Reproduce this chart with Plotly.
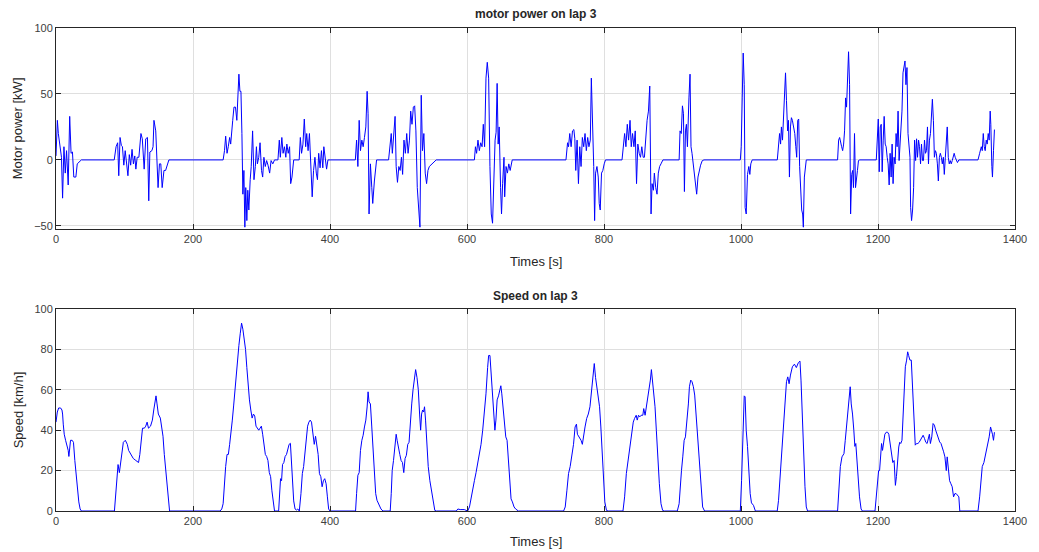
import plotly.graph_objects as go

# ---------------- data ----------------
power_t = [
    0, 2, 3.4, 6, 8, 9.6, 11.6, 13.5, 15.4, 17.8, 20, 22, 24, 26, 29, 31, 35, 37,
    85, 87.7, 90, 91.6, 93.5, 95.4, 97, 99, 101, 103, 105, 107, 109, 111, 113, 115, 116.6, 118.5, 121,
    124, 126, 128.7, 131, 133.5, 135.4, 137, 140, 141.7, 143, 145.6, 147.5, 149, 151, 153, 155, 157.6,
    160, 162, 164.8,
    244, 246, 247.7, 249.7, 251.5, 253.5, 255, 256.4, 258, 259.8, 262, 264, 265.6, 267, 268.5, 270,
    271.4, 272.8, 274.3, 275.7, 277, 278.6, 280, 281.5, 283.5, 285, 287, 289, 291, 292.6, 294, 296,
    297.9, 300, 301.7, 303.5, 305.5, 307.5, 309.5, 311.9, 314, 316.5, 319, 324, 326, 327.5, 329.7,
    331.5, 333.5, 335.5, 337, 339, 341, 342.6, 344.5, 347, 355, 356.7, 358.5, 360.5, 362.5, 364.5,
    366, 368, 370, 372, 374, 376, 378, 380, 381.7, 383.5, 385.5, 387.5, 389.5, 391, 393, 395, 397,
    437, 438.8, 440.7, 442.6, 444.5, 446.5, 448.4, 450.3, 452.3, 454.2, 455.6, 457, 459, 461, 462.4,
    464.8, 466.7, 468,
    485.5, 488, 489.4, 491, 492.7, 495, 496.6, 498.5, 500.5, 502.4, 504.3, 506, 508, 510, 512, 514,
    516, 517.8, 519.7, 521.7, 523.6, 525.4, 527.4, 529.4, 531.3, 533.2, 535, 537, 539, 541, 543, 545,
    547, 549, 552, 555,
    610.8, 612.3, 614, 616, 618, 620, 622, 623.8, 625.7, 627.7, 629.6, 631.6, 633.5, 635.4, 637.3,
    639.3, 641, 642.5, 644, 645.5, 647, 649, 650.4, 652, 654, 655, 657, 659, 661, 663, 665, 666,
    744.5, 745.5, 746.8, 748.2, 750, 752, 754, 756, 757.4, 758.8, 760.7, 762.7, 764.6, 766.5, 768.4,
    770.4, 772.3, 774.2, 776.2, 778, 780, 781.5, 783, 785, 786.3, 787.7, 789.7, 791.6, 793, 794.5,
    796.4, 798.3, 800.3, 802.2,
    826.3, 828.1, 830.1, 832, 834, 835.9, 838, 839.8, 841.7, 843.7, 845.6, 847.5, 849.4, 851.4, 853.3,
    855.2, 857.2, 859, 861, 862.9, 864.9, 866.8, 868.7, 870.2, 872.1, 873.5, 875.5, 877.4, 879.3,
    881.2, 883.2, 886,
    909.7, 911, 912.8, 914.5, 916, 917.4, 918.9, 920.3, 921.8, 922.7, 924, 925.6, 927, 928.5, 930,
    931.4, 933.3, 935.3, 937.2, 939.1, 941, 943.5, 946,
    999, 1000.3, 1001.8, 1003.2, 1004.7, 1006, 1007.6, 1009.5, 1011.4, 1012.9, 1014.3, 1016.3,
    1053, 1054.8, 1056.3, 1057.8, 1059, 1060.6, 1062, 1063.5, 1065, 1066.4, 1068, 1069.3, 1070.7,
    1072.2, 1073.6, 1075, 1077, 1078.5, 1080, 1081.3, 1082.8, 1084.2, 1085.6, 1087, 1088.6, 1090,
    1091, 1092.5, 1094, 1095.3,
    1141, 1142.5, 1144, 1145.4, 1146.9, 1148.4, 1149.8, 1151.2, 1152.7, 1154.1, 1155.6, 1157, 1158.5,
    1160, 1161.6, 1163, 1164.2, 1165.7, 1167.2, 1168.6, 1170, 1171.5, 1173.4,
    1197.5, 1198.9, 1200.4, 1201.8, 1203.3, 1204.7, 1206.1, 1207.6, 1209, 1210.5, 1211.9, 1213.4,
    1214.8, 1216.3, 1217.7, 1219.2, 1220.6, 1222, 1223.5, 1225, 1226.4, 1227.9, 1229.3, 1230.8,
    1232.2, 1233.7, 1235, 1236.5, 1238, 1239.4, 1240.8, 1242.3, 1243.8, 1245.2, 1246.7, 1247.6, 1249,
    1250.5, 1252, 1253.4, 1254.9, 1256.3, 1257.7, 1259.2, 1260.6, 1262.1, 1263.5, 1265, 1266.4,
    1267.9, 1269.3, 1270.8, 1272.2, 1273.7, 1275.1, 1276.6, 1278, 1279.4, 1280.9, 1282.3, 1283.8,
    1285.2, 1286.7, 1288.1, 1289.6, 1291, 1292.5, 1293.9, 1295.4, 1296.8, 1298.3, 1299.7, 1301.1,
    1302.6, 1304, 1305.5, 1306.9, 1308.4, 1309.8, 1311.2, 1312.7, 1314.1, 1316, 1318,
    1346, 1348.4, 1350.8, 1352.2, 1353.7, 1355.1, 1356.5, 1358, 1359.4, 1360.9, 1362.3, 1363.8,
    1364.7, 1366.2, 1367.1, 1368.6, 1370,
]
power_kw = [
    3, 30, 20, 10, 2, -29, 10, -10, 7, -19, 33, 5, 6, -13, -13, -3, -0.5, 0,
    0, 10, 13, -12, 17, 11, 10, -4, 7, -5, -12, 4, -4, 8, -3, 3, -7, 2, 2,
    20, 16, -7, 16, 17, -31, 6, 7, 10, 30, 22, -3, -21, -3, -3, -21, -8,
    -8, -4, 0,
    0, 7, 18, 5, 10, 17, 12, 25, 30, 40, 40, 30, 45, 65, 52, 52,
    20, -26, -8, -51, -21, -46, -23, -38, -15, -5, 22, -15, -5, 10, -3, 2,
    13, -8, -13, 2, -5, -0.5, -4, -10, -0.5, -3, 0, 0, 15, 2, 17,
    5, 10, 2, 12, 5, 10, -18, -13, 0, 0, 17, 5, 12, 31, 10,
    20, 7, 20, -6, -28, -8, 2, -10, -15, 5, -6, 7, -6, 10, 0, -7, 0,
    0, 15, -5, 30, 7, 15, 10, 17, 25, 52, 35, -41, -3, -21, -33,
    -16, -6, 0,
    0, 15, 20, 5, 20, 33, -5, -17, -5, -8, 2, -11, 15, 5, 20, 5,
    15, 37, 27, 40, 41, 22, -21, -36, -51, 49, 7, 20, -10, -18, -8, -5,
    -4, -3, -2, 0,
    0, 10, 5, 15, 7, 13, 10, 27, 10, 62, 74, 62, -5, -41, -48,
    -10, 15, 21, 58, 12, 25, -21, -41, -18, 2, -28, -5, -10, -3, -8, -0.5, 0,
    0, 5, 13, 10, 20, 10, 22, 23, 16, -8, 15, -18, 10, -5, 17,
    10, 20, 7, 17, 10, 15, 62, 40, -5, -46, -10, -5, -13, -33, -38,
    -10, -8, -3, 0,
    0, 10, 20, 10, 27, 15, 30, 10, 20, 10, 22, -18, 12, 5, 2,
    10, 2, 2, 20, 30, 37, 56, -41, -18, -23, -10, -21, -26, -10,
    -5, -3, 0,
    0, 22, 20, 41, 35, -24, 22, 27, 10, 37, 47, 65, 10, 5, -3,
    -5, -18, -26, -13, -8, -4, -0.5, 0,
    0, 10, 47, 81, 57, -36, -41, -11, -5, -11, -3, 0,
    0, 10, 20, 12, 25, 15, 30, 55, 66, 45, 22, 30, -13,
    25, 32, 30, 25, 20, 10, 2, 30, 31, -5, -28, -38, -41,
    -51, -13, -3, 0,
    0, 15, 17, 12, 10, 7, 12, 22, 47, 40, 62, 82, 57,
    -41, -11, -8, -21, 20, -21, -11, -8, -0.5, 0,
    0, 15, 31, -9, 25, 27, -9, 15, 33, 12, 10, 2,
    -3, -19, 5, -13, 12, -18, 2, -3, 20, 10, 37, -0.5,
    10, 25, 37, 66, 70, 75, 57, 70, 20, 10, 2, -36, -46,
    -38, -21, 15, -0.5, 16, 2, 15, 10, -3, 12, -0.5, -0.5,
    15, 5, 7, 25, -3, 15, 20, 32, 46, 30, 2, 7,
    5, -3, -16, 2, 5, 2, -3, 2, -11, 2, 12, 25,
    2, -3, -0.5, -3, -0.5, 2, 5, 2, -0.5, -2, 0,
    0, 5, 10, 7, 20, 10, 7, 15, 12, 20, 15, 37,
    27, -5, -13, 7, 23,
]

speed_t = [
    0, 1.9, 3.9, 6.7, 8.7, 9.6, 10.6, 12, 14, 15.9, 17.8, 18.8, 19.8, 21.2, 23.6, 25.5, 27.5, 29.4,
    31.3, 33.3, 35.2, 37.1,
    85.3, 86.8, 88.7, 90.6, 92.5, 94.5, 96.4, 98.3, 101.2, 104.1, 106, 109.4, 112.8, 116.6, 120.5,
    122.4, 124.4, 126.3, 129, 131, 133, 135, 138, 140.7, 142.7, 144.6, 146, 147.5, 149.4, 152.3,
    154.2, 156.2, 158.1, 160, 162, 163.9, 165.8,
    239.6, 242, 244, 245.8, 247.7, 249.7, 251.6, 253.5, 255.5, 257.4, 259.3, 261.2, 263.2, 265.1,
    267, 269, 270.9, 272.8, 274.7, 276.7, 278.6, 280.5, 282.4, 284.4, 286.3, 288.2, 290.1, 292,
    294, 296, 297.9, 299.8, 301.7, 303.7, 305.6, 307.5, 309.4, 311.4, 313.3, 315.2, 317.2, 319,
    325, 326.3, 327.8, 329.3, 330.7, 332.6, 334.5, 336.5, 338.4, 340.3, 342.2, 343.7, 345.2, 347,
    349, 351, 353, 355.2, 357.6, 359.6, 361.5, 363.4, 365.4, 367.3, 369.2, 371.1, 373, 375, 377,
    378.9, 380.8, 382.7, 384.6, 386.6, 388.5, 390.4, 392.3, 394.3, 396.2, 398, 400,
    437.3, 438.8, 440.7, 442.6, 444.5, 446.5, 448.4, 450.3, 452.3, 454.2, 455.6, 457, 459, 461,
    462.9, 464.8, 466.7, 468.6, 471.5, 474.4, 477.3,
    487.9, 489.4, 490.8, 492.7, 494.7, 496.6, 498, 500, 501.9, 503.8, 505.8, 507.7, 509.6, 511.5,
    513.5, 515.4, 517.3, 519.3, 521.2, 523.1, 525, 527, 528.9, 530.8, 532.3, 533.7, 535.2, 536.6,
    538, 539.5, 541.4, 543.4, 545.8, 548.2, 550.6, 553, 555.4,
    584.3, 586.7, 590, 596, 599.7,
    601, 603.6, 606, 608.4, 610.8, 613.2, 615.7, 618, 620.5, 622.9, 625.3, 627.7, 630.1, 631.6,
    633.5, 635.4, 637.3, 639.3, 640.7, 642.2, 644, 646, 648, 649.4, 650.8, 652.8, 654.7, 656.6,
    658.5, 660.5, 662.4, 664.3, 666.3, 668.7, 671, 675,
    741, 743.4, 745.8, 748.2, 750.6, 753, 755.5, 757.8, 759.8, 761.2, 763.6, 766.5, 768.4, 770.4,
    772.3, 774.7, 777.1, 779.5, 782, 783.9, 785.8, 787.7, 789.7, 791.6, 793.5, 795.4, 797.4, 799.3,
    801.2, 803.6, 806,
    827.7, 830.1, 832.6, 835, 837, 838.8, 840.8, 842.7, 844.6, 847, 848.5, 850.4, 852.3, 854.2,
    856.7, 858, 860, 862, 864, 865.8, 867.7, 869.2, 870.6, 872.6, 874.5, 876.4, 878.3, 880.8,
    883.2, 885.6, 888,
    907, 909.7, 911.2, 913.1, 915, 917, 918.9, 920.3, 921.8, 923.2, 924.7, 926.6, 928.5, 930.5,
    932.4, 934.3, 936.2, 938.2, 940.1, 942, 944, 946.8,
    999, 1000.8, 1002.8, 1004.7, 1006, 1007.6, 1009.5, 1011.4, 1013.4, 1015.3, 1018.2, 1021,
    1052.9, 1054.8, 1056.7, 1058.7, 1060.6, 1062.5, 1064.5, 1066.4, 1068.3, 1070.2, 1072.2, 1075,
    1078, 1080.8, 1083.7, 1086.1, 1087.6, 1089.5, 1091.4, 1093.4, 1095.3, 1097.2,
    1141, 1143, 1145, 1147.4, 1150.3, 1152.2, 1154.1, 1156, 1158, 1159.4, 1160.9, 1162.8, 1164.7,
    1166.2, 1167.6, 1169, 1171, 1173, 1175.3, 1177.2,
    1195.6, 1197.5, 1199.4, 1200.9, 1202.3, 1203.8, 1205.2, 1206.6, 1208.1, 1210, 1212, 1214,
    1215.8, 1217.7, 1219.7, 1221.6, 1223.5, 1224.5, 1225.4, 1226.9, 1228.3, 1230.3, 1231.7, 1233.2,
    1235, 1236.5, 1238, 1239.9, 1241.8, 1243.3, 1244.7, 1246.6, 1248.6, 1250.5, 1252.4, 1254.4,
    1256.3, 1258.2, 1260.1, 1262, 1264, 1265.9, 1267.9, 1269.8, 1271.7, 1273.6, 1275, 1276.5,
    1278.5, 1280.4, 1282.3, 1284.2, 1286.2, 1288.1, 1290, 1292, 1293.9, 1295.8, 1297.7, 1299.7,
    1301, 1302.6, 1304.5, 1306.4, 1308.3, 1310.3, 1312.2, 1314.1, 1316, 1318, 1319.4,
    1346, 1348.4, 1350.3, 1352.2, 1354.6, 1356.5, 1358.5, 1360.4, 1362.3, 1364.3, 1365.7, 1367.1,
    1368.6, 1370,
]
speed_kmh = [
    44, 49, 51, 51, 50, 48, 43, 38, 35, 33, 30, 27, 32, 35, 35, 34, 25, 17,
    10, 4.5, 1, 0,
    0, 7, 15, 23, 19, 25, 30, 34, 35, 33, 30, 28, 26, 25, 24,
    28, 37, 41, 41, 42, 44, 41, 42, 45, 50, 54, 57, 53, 48, 46,
    42, 37, 28, 20, 12, 4.5, 0,
    0, 1, 3.6, 13.5, 22, 28, 28, 33, 38, 45, 52, 60, 70, 76,
    82, 88, 93, 90, 85, 80, 71, 61, 55, 50, 46, 48, 47, 42,
    41, 40, 41, 42, 38, 33, 28, 27, 25, 19, 17, 10, 4.5, 0,
    0, 8.6, 16, 15, 23, 24, 27, 28, 30, 33, 33.5, 25, 15, 5,
    1, 0.5, 1, 0, 8.6, 18.5, 22, 28, 37, 42, 44, 45, 44, 38, 33,
    37, 33, 28, 18.5, 17, 12, 15, 16, 13.5, 7, 1, 0,
    0, 8.6, 17.7, 19, 30, 35, 37.5, 41.6, 45, 51.5, 59, 54, 53, 41.6,
    28, 17, 8.6, 5.3, 2.8, 1, 0,
    0, 8.6, 20, 25, 32, 38, 35, 30, 28, 25, 24, 19, 26, 27.6,
    33, 34, 45, 53, 60, 65.6, 70, 66, 60, 48, 40, 48, 50, 49,
    51.6, 45, 32, 22, 15, 10, 5.3, 0.3, 0,
    0, 1, 0.7, 0.7, 0,
    0, 2, 7, 12, 15, 19, 23.5, 28, 33, 40, 48, 58, 71, 77,
    77, 66, 60, 45, 40, 45, 55, 57, 60.7, 62, 58, 51.6, 43, 36.7,
    35, 23.5, 13.5, 6, 4.5, 2, 1, 0,
    0, 2, 10, 18.5, 22, 27, 33, 41.6, 43, 38, 36.7, 35, 33, 38,
    41.6, 45.8, 48, 51.6, 60, 68, 73, 66, 61.5, 58, 51.6, 41.6, 28, 15,
    4.5, 0.3, 0,
    0, 7, 18.5, 25, 28, 35, 40, 44, 45.8, 47.4, 45, 47.4, 46.6, 47.4,
    47.4, 50.7, 47.4, 51.6, 55, 60, 64.8, 70, 65.6, 60, 51.6, 40, 26.8, 13.5,
    3.6, 0.3, 0,
    0, 3.6, 12, 20, 26.8, 35, 36.7, 41.6, 45, 53, 61.5, 64.8, 64, 61.5,
    57.4, 48, 38, 28, 18.5, 8.6, 2, 0,
    0, 15, 40, 57, 56.5, 40, 32, 18.5, 8.6, 4, 2.8, 0,
    0, 5.3, 15, 24, 30, 40, 51.6, 64, 66.4, 63, 67.3, 71.4,
    72.7, 71, 73.4, 74.2, 64.8, 45, 26.8, 12, 2, 0,
    0, 12, 22, 26.8, 28.4, 35, 41.6, 50, 58, 61.5, 53, 48, 40,
    32, 33.4, 25, 15, 7, 1, 0,
    0, 8.6, 17, 20, 20, 30, 33.4, 30, 33.4, 38, 39, 39,
    38, 33.4, 30, 24, 25, 15, 12.7, 17, 24, 31.7, 34, 33.4,
    35, 48, 60, 71.4, 74.7, 78.8, 77, 74.7, 74.7, 61.5, 48, 32.6,
    33.4, 33.4, 34, 35, 36.7, 37.5, 35.9, 34, 33.4, 35.9, 38, 33.4,
    36.7, 43.3, 42.5, 40, 38, 35, 34.2, 33.4, 31.7, 29.3, 26.8, 20,
    26.8, 21.8, 15, 13.5, 12, 7, 8.6, 8.6, 7.8, 7, 0,
    0, 7, 15, 22, 24, 26.8, 30, 33.4, 36.7, 41.6, 40, 38,
    35, 39,
]

x_ticks = [0, 200, 400, 600, 800, 1000, 1200, 1400]
power_ticks = [-50, 0, 50, 100]
speed_ticks = [0, 20, 40, 60, 80, 100]

# ---------------- figure ----------------
W, H = 1039, 552
ml, mr, mt, mb = 56, 15, 28, 41
ph = H - mt - mb

def py(pix):
    return (H - mb - pix) / ph

def px(pix):
    return (pix - ml) / (W - ml - mr)

LINE = "#0000FF"
AXC = "#262626"
GRID = "#DFDFDF"
FONT = "Liberation Sans, Arial, Helvetica, sans-serif"

fig = go.Figure()
fig.add_trace(go.Scatter(x=power_t, y=power_kw, mode="lines",
                         line=dict(color=LINE, width=1), xaxis="x", yaxis="y",
                         showlegend=False, hoverinfo="skip"))
fig.add_trace(go.Scatter(x=speed_t, y=speed_kmh, mode="lines",
                         line=dict(color=LINE, width=1), xaxis="x2", yaxis="y2",
                         showlegend=False, hoverinfo="skip"))

axis_common = dict(showline=True, linecolor=AXC, linewidth=1, mirror="ticks",
                   ticks="inside", ticklen=5, tickcolor=AXC, tickwidth=1,
                   showgrid=True, gridcolor=GRID, gridwidth=1, zeroline=False,
                   tickfont=dict(family=FONT, size=11, color="#404040"))

fig.update_layout(
    width=W, height=H,
    margin=dict(l=ml, r=mr, t=mt, b=mb, pad=0),
    paper_bgcolor="white", plot_bgcolor="white",
    font=dict(family=FONT, size=11, color=AXC),
    xaxis=dict(domain=[0, 1], range=[0, 1400], tickvals=x_ticks, anchor="y", **axis_common),
    yaxis=dict(domain=[py(228.5), 1], range=[-52, 100], tickvals=power_ticks, anchor="x",
               **axis_common),
    xaxis2=dict(domain=[0, 1], range=[0, 1400], tickvals=x_ticks, anchor="y2", **axis_common),
    yaxis2=dict(domain=[0, py(309)], range=[0, 100], tickvals=speed_ticks, anchor="x2",
                **axis_common),
)

ann = [
    dict(text="<b>motor power on lap 3</b>", x=0.5, y=py(14), size=12, angle=0),
    dict(text="<b>Speed on lap 3</b>", x=0.5, y=py(296), size=12, angle=0),
    dict(text="Times [s]", x=0.5, y=py(261), size=13, angle=0),
    dict(text="Times [s]", x=0.5, y=py(541), size=13, angle=0),
    dict(text="Motor power [kW]", x=px(18), y=py(128), size=13, angle=-90),
    dict(text="Speed [km/h]", x=px(18), y=py(410), size=13, angle=-90),
]
for a in ann:
    fig.add_annotation(text=a["text"], x=a["x"], y=a["y"], xref="paper", yref="paper",
                       xanchor="center", yanchor="middle", showarrow=False,
                       textangle=a["angle"],
                       font=dict(family=FONT, size=a["size"], color=AXC))

fig.write_html("out.html")
